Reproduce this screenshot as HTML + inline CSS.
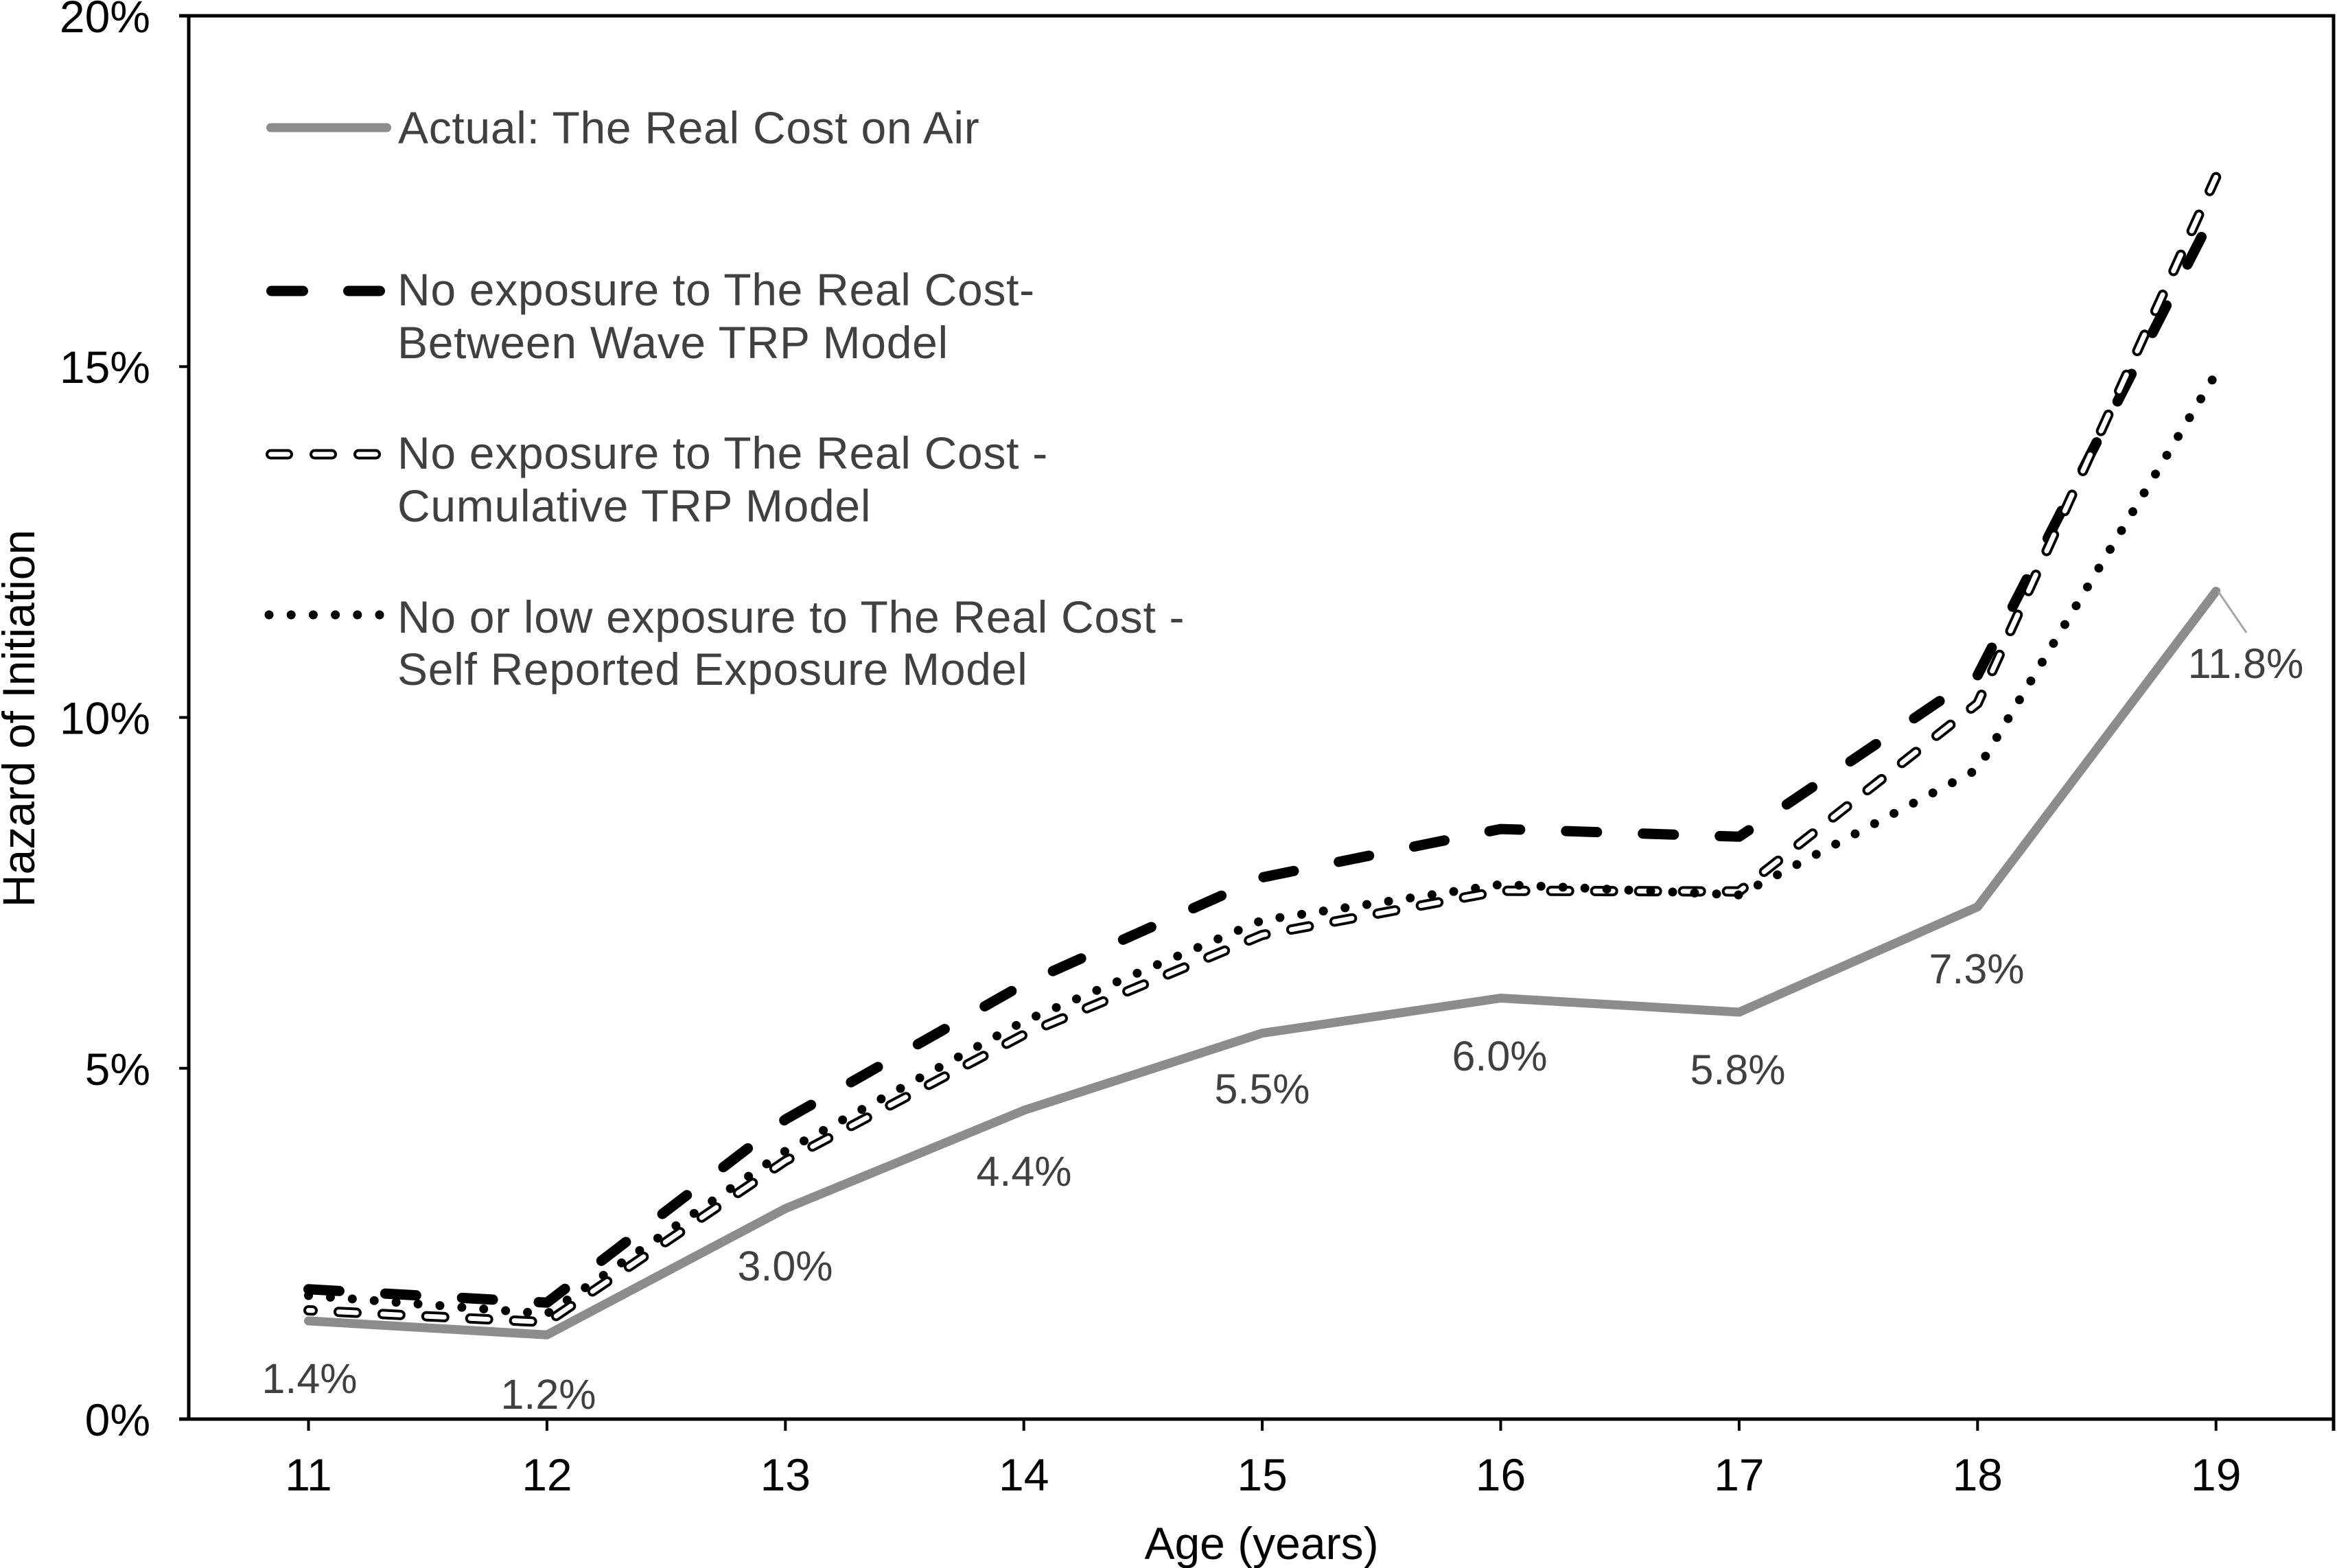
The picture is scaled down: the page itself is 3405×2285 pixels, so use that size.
<!DOCTYPE html>
<html>
<head>
<meta charset="utf-8">
<style>
  html, body { margin:0; padding:0; background:#ffffff; }
  svg { display:block; }
  text { font-family: "Liberation Sans", Arial, sans-serif; }
</style>
</head>
<body>
<svg xmlns="http://www.w3.org/2000/svg" width="3405" height="2285" viewBox="0 0 3405 2285">
  <rect x="0" y="0" width="3405" height="2285" fill="#ffffff"/>

  <!-- Axes / frame -->
  <g stroke="#000" fill="none">
    <line x1="261" y1="23" x2="3402.5" y2="23" stroke-width="5"/>
    <line x1="275" y1="20.5" x2="275" y2="2070.5" stroke-width="5"/>
    <line x1="261" y1="2068" x2="3402.5" y2="2068" stroke-width="5"/>
    <line x1="3400" y1="20.5" x2="3400" y2="2085" stroke-width="5"/>
    <!-- y ticks -->
    <line x1="261" y1="534.25" x2="275" y2="534.25" stroke-width="4"/>
    <line x1="261" y1="1045.5" x2="275" y2="1045.5" stroke-width="4"/>
    <line x1="261" y1="1556.75" x2="275" y2="1556.75" stroke-width="4"/>
    <!-- x ticks -->
    <line x1="449.5" y1="2068" x2="449.5" y2="2085" stroke-width="4"/>
    <line x1="796.9" y1="2068" x2="796.9" y2="2085" stroke-width="4"/>
    <line x1="1144.3" y1="2068" x2="1144.3" y2="2085" stroke-width="4"/>
    <line x1="1491.7" y1="2068" x2="1491.7" y2="2085" stroke-width="4"/>
    <line x1="1839.1" y1="2068" x2="1839.1" y2="2085" stroke-width="4"/>
    <line x1="2186.5" y1="2068" x2="2186.5" y2="2085" stroke-width="4"/>
    <line x1="2533.9" y1="2068" x2="2533.9" y2="2085" stroke-width="4"/>
    <line x1="2881.3" y1="2068" x2="2881.3" y2="2085" stroke-width="4"/>
    <line x1="3228.7" y1="2068" x2="3228.7" y2="2085" stroke-width="4"/>
  </g>

  <!-- Y tick labels -->
  <g font-size="66" fill="#000" text-anchor="end">
    <text x="219" y="47">20%</text>
    <text x="219" y="558">15%</text>
    <text x="219" y="1069.5">10%</text>
    <text x="219" y="1581">5%</text>
    <text x="219" y="2092">0%</text>
  </g>

  <!-- X tick labels -->
  <g font-size="66" fill="#000" text-anchor="middle">
    <text x="449.5" y="2172">11</text>
    <text x="796.9" y="2172">12</text>
    <text x="1144.3" y="2172">13</text>
    <text x="1491.7" y="2172">14</text>
    <text x="1839.1" y="2172">15</text>
    <text x="2186.5" y="2172">16</text>
    <text x="2533.9" y="2172">17</text>
    <text x="2881.3" y="2172">18</text>
    <text x="3228.7" y="2172">19</text>
  </g>

  <!-- Axis titles -->
  <text x="1838" y="2272" font-size="66" fill="#000" text-anchor="middle">Age (years)</text>
  <text transform="translate(50,1047) rotate(-90)" x="0" y="0" font-size="66" fill="#000" text-anchor="middle">Hazard of Initiation</text>

  <!-- Series: Actual (gray solid) -->
  <polyline fill="none" stroke="#8c8c8c" stroke-width="13" stroke-linejoin="round" stroke-linecap="round"
    points="449.5,1924.9 796.9,1945.3 1144.3,1761.3 1491.7,1618.1 1839.1,1505.6 2186.5,1454.5 2533.9,1475.0 2881.3,1321.6 3228.7,861.5"/>

  <!-- Series: Between wave (black long dash) -->
  <polyline fill="none" stroke="#000" stroke-width="15" stroke-linejoin="round" stroke-linecap="round"
    stroke-dasharray="45 67"
    points="449.5,1878.8 796.9,1898.3 1144.3,1631.4 1491.7,1434.1 1839.1,1278.6 2186.5,1208.1 2533.9,1219.3 2881.3,984.2 3228.7,304.0"/>

  <!-- Series: Cumulative (hollow dashes) -->
  <polyline fill="none" stroke="#000" stroke-width="15" stroke-linejoin="round" stroke-linecap="round"
    stroke-dasharray="26 38" stroke-dashoffset="20"
    points="449.5,1909.5 796.9,1926.9 1144.3,1691.7 1491.7,1507.7 1839.1,1362.5 2186.5,1298.1 2533.9,1299.1 2881.3,1025.1 3228.7,258.2"/>
  <polyline fill="none" stroke="#fff" stroke-width="7" stroke-linejoin="round" stroke-linecap="round"
    stroke-dasharray="26 38" stroke-dashoffset="20"
    points="449.5,1909.5 796.9,1926.9 1144.3,1691.7 1491.7,1507.7 1839.1,1362.5 2186.5,1298.1 2533.9,1299.1 2881.3,1025.1 3228.7,258.2"/>

  <!-- Series: Self reported (dotted) -->
  <polyline fill="none" stroke="#000" stroke-width="13" stroke-linejoin="round" stroke-linecap="round"
    stroke-dasharray="0 32"
    points="449.5,1888.0 796.9,1914.6 1144.3,1677.4 1491.7,1488.3 1839.1,1341.0 2186.5,1288.9 2533.9,1304.2 2881.3,1121.2 3228.7,544.5"/>

  <!-- Leader line for 11.8% -->
  <line x1="3232" y1="862" x2="3273" y2="922" stroke="#a6a6a6" stroke-width="3"/>

  <!-- Data labels -->
  <g font-size="61" fill="#404040" text-anchor="middle">
    <text x="451" y="2030">1.4%</text>
    <text x="799" y="2053">1.2%</text>
    <text x="1144" y="1866">3.0%</text>
    <text x="1492" y="1728">4.4%</text>
    <text x="1839" y="1608">5.5%</text>
    <text x="2185" y="1560">6.0%</text>
    <text x="2532" y="1580">5.8%</text>
    <text x="2880" y="1433">7.3%</text>
    <text x="3272" y="988">11.8%</text>
  </g>

  <!-- Legend symbols -->
  <line x1="394.5" y1="186" x2="563.5" y2="186" stroke="#8c8c8c" stroke-width="13" stroke-linecap="round"/>
  <line x1="395.5" y1="424" x2="553.5" y2="424" stroke="#000" stroke-width="15" stroke-linecap="round" stroke-dasharray="46 66"/>
  <line x1="394.5" y1="662" x2="560" y2="662" stroke="#000" stroke-width="15" stroke-linecap="round" stroke-dasharray="25 39"/>
  <line x1="394.5" y1="662" x2="560" y2="662" stroke="#fff" stroke-width="7" stroke-linecap="round" stroke-dasharray="25 39"/>
  <line x1="392" y1="896" x2="560" y2="896" stroke="#000" stroke-width="13" stroke-linecap="round" stroke-dasharray="0 32.2"/>

  <!-- Legend text -->
  <g font-size="66" fill="#404040" letter-spacing="0.7">
    <text x="580" y="209">Actual: The Real Cost on Air</text>
    <text x="579" y="445">No exposure to The Real Cost-</text>
    <text x="579" y="522">Between Wave TRP Model</text>
    <text x="579" y="683">No exposure to The Real Cost -</text>
    <text x="579" y="760">Cumulative TRP Model</text>
    <text x="579" y="922">No or low exposure to The Real Cost -</text>
    <text x="579" y="998">Self Reported Exposure Model</text>
  </g>
</svg>
</body>
</html>
